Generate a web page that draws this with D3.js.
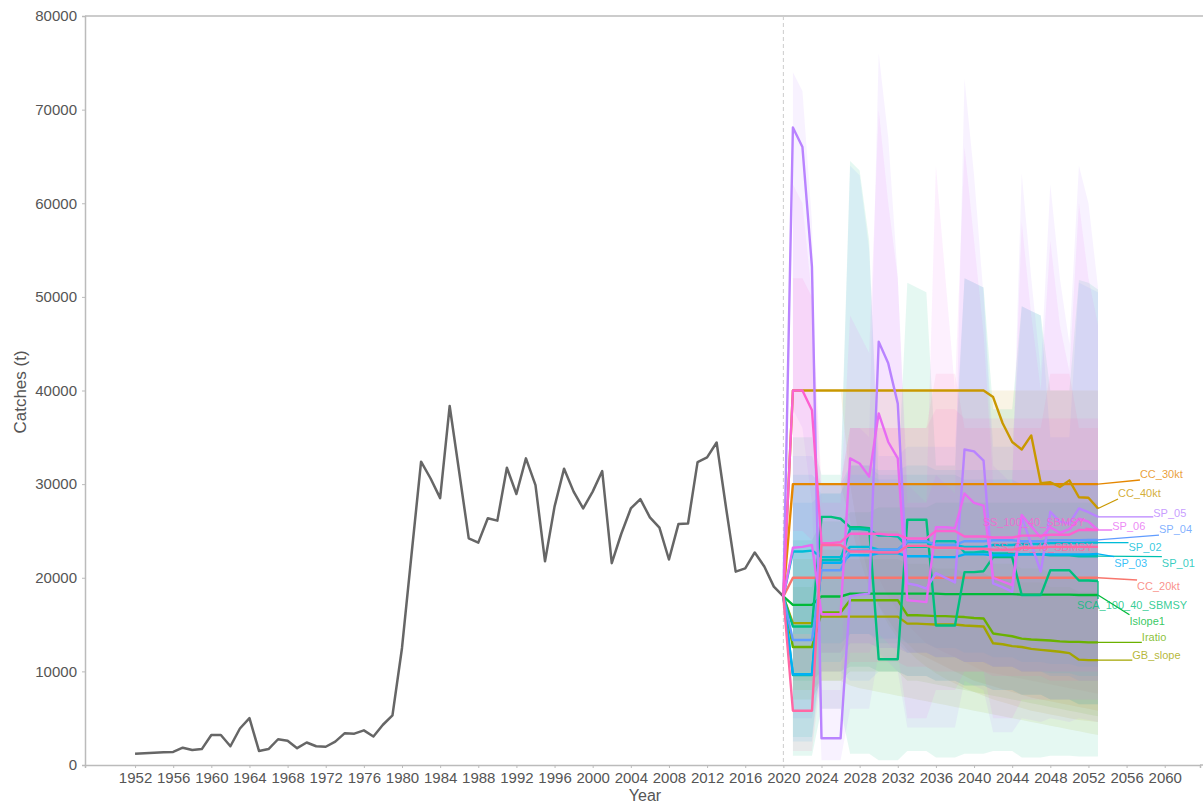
<!DOCTYPE html>
<html><head><meta charset="utf-8">
<script src="https://cdn.jsdelivr.net/npm/d3@7"></script>
<style>body{margin:0;background:#fff;} svg{display:block;font-family:"Liberation Sans",Arial,sans-serif;}</style>
</head><body>
<svg id="chart" width="1203" height="803"></svg>
<script>
// ---------- DATA ----------
const histYears = d3.range(1952, 2021);
const histCatch = [1200,1250,1300,1350,1400,1850,1600,1700,3200,3200,
  2000,3900,5000,1500,1700,2750,2600,1800,2400,2000,
  1950,2500,3400,3350,3700,3050,4300,5300,12500,22500,
  32400,30600,28500,38350,31300,24200,23750,26350,26100,31750,
  28950,32750,29900,21750,27600,31650,29200,27400,29200,31400,
  21550,24700,27400,28400,26450,25350,21950,25750,25800,32350,
  32850,34450,27400,20650,21000,22700,21200,19050,18000];

const lastHistYear = 2020;
const lastHistCatch = 18000;
const projYears = d3.range(2021, 2054);

const seriesNames = ["CC_20kt","CC_30kt","CC_40kt","GB_slope","Iratio","Islope1","SCA_100_40_SBMSY",
  "SP_01","SP_02","SP_03","SP_04","SP_05","SP_06","SS_100_40_SBMSY","SS_GB_40_SBMSY"];
const seriesColors = ["#F8766D","#E58700","#C99800","#A3A500","#6BB100","#00BA38","#00BF7D",
  "#00C0AF","#00BCD8","#00B0F6","#619CFF","#B983FF","#E76BF3","#FD61D1","#FF67A4"];

// medians (2021..2053)
const cc20Line = [20000,20000,20000, 20000,20000,20000, 20000,20000,20000, 20000,20000,20000, 20000,20000,20000, 20000,20000,20000, 20000,20000,20000, 20000,20000,20000, 20000,20000,20000, 20000,20000,20000, 20000,20000,20000];
const cc30Line = [30000,30000,30000, 30000,30000,30000, 30000,30000,30000, 30000,30000,30000, 30000,30000,30000, 30000,30000,30000, 30000,30000,30000, 30000,30000,30000, 30000,30000,30000, 30000,30000,30000, 30000,30000,30000];
const cc40Line = [40000,40000,40000, 40000,40000,40000, 40000,40000,40000, 40000,40000,40000, 40000,40000,40000, 40000,40000,40000, 40000,40000,40000, 39300,36500,34500, 33700,35200,30100, 30200,29700,30400, 28600,28550,27400];
const gbLine = [15150,15150,15150, 15850,15850,15850, 15850,15850,15850, 15850,15850,15850, 15100,15100,15050, 15000,15000,15000, 14900,14850,14800, 13000,12900,12700, 12600,12400,12300, 12200,12100,11950, 11250,11200,11200];
const iratioLine = [12600,12600,12600, 16300,16300,16300, 17600,17600,17600, 17600,17600,17600, 16000,16000,15950, 15900,15900,15850, 15800,15700,15650, 14050,13900,13750, 13500,13400,13350, 13300,13200,13150, 13150,13100,13100];
const islopeLine = [17100,17100,17100, 18000,18000,18000, 18300,18300,18300, 18300,18300,18300, 18300,18300,18300, 18300,18250,18250, 18250,18250,18250, 18250,18250,18250, 18200,18200,18200, 18200,18200,18200, 18150,18150,18150];
const scaLine = [14800,14800,14800, 26500,26500,26300, 25400,25400,25300, 11300,11300,11300, 26200,26200,26200, 14900,14900,14900, 20600,20600,20700, 22200,22200,22200, 18150,18150,18150, 20800,20800,20800, 19700,19700,19650];
const sp01Line = [9600,9600,9600, 21900,21900,21900, 25200,25200,25100, 24500,24500,24400, 23300,23300,23300, 23900,23900,23900, 22700,22700,22800, 22600,22600,22600, 22500,22500,22500, 22400,22400,22400, 22300,22300,22300];
const sp02Line = [22800,22800,22900, 22200,22200,22200, 23300,23300,23300, 23000,23000,23000, 23800,23800,23800, 23500,23500,23500, 23300,23300,23300, 23500,23500,23500, 23600,23600,23600, 23700,23700,23700, 23700,23750,23750];
const sp03Line = [9700,9700,9700, 21600,21600,21600, 22400,22400,22400, 22600,22600,22600, 22300,22300,22300, 22200,22200,22200, 22500,22500,22500, 22400,22400,22400, 22500,22500,22500, 22500,22500,22500, 22500,22500,22550];
const sp04Line = [13350,13350,13350, 20800,20800,20800, 22900,22900,22900, 23000,23000,23000, 23900,23900,23900, 23500,23500,23500, 23900,23900,23900, 24000,24000,24000, 23900,23900,23900, 24000,24000,24000, 24000,24050,24050];
const sp05Line = [68100,66000,53200, 2850,2850,2850, 18000,18200,18300, 45200,42900,38600, 19400,19200,18850, 20500,20000,19500, 33700,33500,32500, 19400,19000,18500, 26500,23600,20650, 27050,26000,25800, 27400,27000,26500];
const sp06Line = [23200,23300,23500, 16100,16100,16100, 32750,32200,30800, 37550,34500,32750, 17600,17500,17400, 25400,25400,25300, 29000,28000,27700, 20000,19600,19200, 26700,25500,24300, 25400,24800,25200, 26300,26000,25100];
const ss1Line = [40000,40000,37900, 23700,23700,23800, 24700,24700,24700, 24700,24600,24600, 24200,24200,24200, 25000,25000,25000, 24400,24400,24400, 24300,24300,24300, 24500,24500,24500, 24600,24600,24600, 25100,25100,25100];
const ss2Line = [5800,5800,5800, 23500,23500,23500, 22800,22800,22800, 22700,22700,22700, 23400,23400,23400, 23200,23200,23200, 23100,23100,23100, 23000,23000,23000, 23200,23200,23200, 23300,23300,23300, 23300,23300,23300];

// uncertainty bands (2021..2053)
const cc20Lo = [20000,20000,20000, 20000,20000,20000, 20000,20000,20000, 20000,18000,16500, 15000,14000,13000, 12500,12000,11500, 11000,10500,10000, 9800,9600,9400, 9200,9000,8800, 8600,8400,8200, 8000,7800,7600];
const cc20Hi = [20000,20000,20000, 20000,20000,20000, 20000,20000,20000, 20000,20000,20000, 20000,20000,20000, 20000,20000,20000, 20000,20000,20000, 20000,20000,20000, 20000,20000,20000, 20000,20000,20000, 20000,20000,20000];
const cc30Lo = [30000,30000,30000, 30000,30000,30000, 26000,22000,19000, 17000,15500,14000, 13000,12000,11500, 11000,10500,10000, 9500,9000,8700, 8400,8100,7800, 7500,7200,7000, 6800,6600,6400, 6200,6000,5800];
const cc30Hi = [30000,30000,30000, 30000,30000,30000, 30000,30000,30000, 30000,30000,30000, 30000,30000,30000, 30000,30000,30000, 30000,30000,30000, 30000,30000,30000, 30000,30000,30000, 30000,30000,30000, 30000,30000,30000];
const cc40Lo = [40000,40000,40000, 40000,40000,40000, 30000,24000,20000, 17000,15000,13500, 12300,11300,10500, 9800,9200,8700, 8200,7800,7400, 7000,6700,6400, 6100,5800,5600, 5400,5200,5000, 4800,4700,4600];
const cc40Hi = [40000,40000,40000, 40000,40000,40000, 40000,40000,40000, 40000,40000,40000, 40000,40000,40000, 40000,40000,40000, 40000,40000,40000, 40000,40000,40000, 40000,40000,40000, 40000,40000,40000, 40000,40000,40000];
const gbLo = [8000,8000,8000, 9000,9000,9000, 8500,8200,8000, 7800,7600,7400, 7200,7000,6800, 6600,6400,6200, 6000,5800,5600, 5400,5200,5000, 4800,4600,4400, 4200,4000,3800, 3600,3400,3200];
const gbHi = [22000,22000,22000, 22000,22000,22000, 22000,22000,22000, 22000,22000,22000, 21500,21500,21500, 21000,21000,21000, 20500,20500,20500, 20000,20000,20000, 19500,19500,19500, 19000,19000,19000, 18500,18500,18500];
const iratioLo = [7000,7000,7000, 9000,9000,9000, 10000,10000,10000, 10000,10000,10000, 9000,9000,8800, 8600,8400,8200, 8000,7800,7600, 7400,7200,7000, 6800,6600,6400, 6200,6000,5800, 5600,5400,5200];
const iratioHi = [19000,19000,19000, 23000,23000,23000, 25000,25000,25000, 25000,25000,25000, 23000,23000,23000, 23000,23000,23000, 22500,22500,22500, 21500,21500,21500, 21000,21000,21000, 20500,20500,20500, 20000,20000,20000];
const islopeLo = [9000,9000,9000, 10000,10000,10000, 10500,10500,10500, 10000,10000,10000, 9500,9500,9500, 9000,9000,9000, 8500,8500,8500, 8000,8000,8000, 7500,7500,7500, 7000,7000,7000, 6500,6500,6500];
const islopeHi = [24000,24000,24000, 26000,26000,26000, 27000,27000,27000, 27500,27500,27500, 27500,27500,27500, 28000,28000,28000, 28000,28000,28000, 28000,28000,28000, 28000,28000,28000, 28000,28000,28000, 28000,28000,28000];
const scaLo = [1000,1000,1000, 6000,6000,6000, 1200,1200,1200, 500,500,500, 1500,1500,1500, 800,800,800, 1200,1200,1200, 1500,1500,1500, 800,800,800, 1000,1000,1000, 900,900,900];
const scaHi = [35000,35000,35000, 31000,31000,31000, 64500,63500,56000, 30000,30000,30000, 51500,51000,50500, 32000,32000,32000, 52000,51500,51000, 38000,38000,38000, 49000,48500,48000, 40000,40000,40000, 51800,51500,50800];
const sp01Lo = [3000,3000,3000, 12000,12000,12000, 14000,14000,14000, 13000,13000,13000, 12000,12000,12000, 11500,11500,11500, 11000,11000,11000, 10500,10500,10500, 10000,10000,10000, 9800,9800,9800, 9500,9500,9500];
const sp01Hi = [30000,30000,30000, 29000,29000,29000, 32000,32000,32000, 31000,31000,31000, 31000,31000,31000, 31000,31000,31000, 30500,30500,30500, 30500,30500,30500, 30000,30000,30000, 30000,30000,30000, 30000,30000,30000];
const sp02Lo = [14000,14000,14000, 13000,13000,13000, 14000,14000,14000, 13500,13500,13500, 13000,13000,13000, 12500,12500,12500, 12000,12000,12000, 11500,11500,11500, 11000,11000,11000, 10800,10800,10800, 10500,10500,10500];
const sp02Hi = [31000,31000,31000, 30000,30000,30000, 32000,32000,32000, 31500,31500,31500, 32000,32000,32000, 31500,31500,31500, 31500,31500,31500, 31500,31500,31500, 31500,31500,31500, 31500,31500,31500, 31500,31500,31500];
const sp03Lo = [2500,2500,2500, 11000,11000,11000, 13000,13000,13000, 12500,12500,12500, 12000,12000,12000, 11500,11500,11500, 11000,11000,11000, 10500,10500,10500, 10000,10000,10000, 9500,9500,9500, 9000,9000,9000];
const sp03Hi = [28000,28000,28000, 29000,29000,29000, 31000,31000,31000, 30500,30500,30500, 30000,30000,30000, 30000,30000,30000, 30000,30000,30000, 30000,30000,30000, 30000,30000,30000, 30000,30000,30000, 30000,30000,30000];
const sp04Lo = [5000,5000,5000, 10000,10000,10000, 9000,9000,9000, 10000,10000,10000, 9500,9500,9500, 9000,9000,9000, 8500,8500,8500, 8000,8000,8000, 7500,7500,7500, 7000,7000,7000, 6500,6500,6500];
const sp04Hi = [33000,33000,33000, 30000,30000,30000, 64000,63000,55000, 33000,33000,33000, 34000,34000,34000, 34000,34000,34000, 52000,51500,51000, 34000,34000,34000, 49000,48500,48000, 35000,35000,35000, 51500,51000,50500];
const sp05Lo = [38000,36000,28000, 500,500,500, 6000,6000,6000, 12000,11000,10000, 4000,4000,4000, 4000,4000,4000, 9000,8500,8000, 3500,3500,3500, 5000,4800,4600, 5000,4800,4600, 5000,4800,4600];
const sp05Hi = [74000,72000,58000, 8000,8000,8000, 36000,36000,35000, 76000,67000,52000, 30000,29000,28000, 31000,30000,29000, 73300,63000,50000, 32000,31000,30000, 63200,52000,42000, 62000,52000,45000, 64000,60000,51000];
const sp06Lo = [10000,10000,10000, 6000,6000,6000, 12000,12000,12000, 14000,13000,12000, 5000,5000,5000, 8000,8000,8000, 10000,10000,10000, 5000,5000,5000, 7000,7000,7000, 7000,7000,7000, 7000,7000,7000];
const sp06Hi = [62000,60000,50000, 28000,28000,28000, 48000,46000,44000, 70000,60000,52000, 28000,28000,28000, 64000,52000,40000, 66000,56000,46000, 30000,30000,30000, 58000,48000,40000, 56000,47000,42000, 60000,52000,47000];
const ss1Lo = [25000,25000,24000, 12000,12000,12000, 13000,13000,13000, 12500,12500,12500, 12000,12000,12000, 11500,11500,11500, 11000,11000,11000, 10500,10500,10500, 10000,10000,10000, 10000,10000,10000, 10000,10000,10000];
const ss1Hi = [52000,52000,50000, 30000,30000,30000, 36000,36000,36000, 36000,36000,36000, 36000,36000,36000, 38000,38000,38000, 37000,37000,37000, 37000,37000,37000, 37000,37000,37000, 37000,37000,37000, 37000,37000,37000];
const ss2Lo = [1500,1500,1500, 10000,10000,10000, 11000,11000,11000, 11000,11000,11000, 10500,10500,10500, 10000,10000,10000, 10000,10000,10000, 9500,9500,9500, 9500,9500,9500, 9000,9000,9000, 9000,9000,9000];
const ss2Hi = [14000,14000,14000, 30000,30000,30000, 36000,36000,36000, 36000,36000,36000, 36000,36000,36000, 41800,41800,41800, 36000,36000,36000, 36000,36000,36000, 36000,36000,36000, 41800,41800,41800, 36000,36000,36000];

// label anchor positions in data units (year, catch)
const labelYears  = [2057.1, 2057.4, 2055.1, 2056.6, 2057.6, 2056.3, 2050.8, 2059.7, 2056.2, 2054.7, 2059.4, 2058.8, 2054.5, 2040.9, 2042.0];
const labelValues = [19120, 31080, 29050, 11750, 13670, 15410, 17090, 21620, 23290, 21620, 25200, 26950, 25560, 25950, 23320];

const xTickValues = d3.range(1952, 2061, 4);
const yTickValues = [0,10000,20000,30000,40000,50000,60000,70000,80000];

// ---------- BUILD ----------
const lines = [cc20Line,cc30Line,cc40Line,gbLine,iratioLine,islopeLine,scaLine,sp01Line,sp02Line,sp03Line,sp04Line,sp05Line,sp06Line,ss1Line,ss2Line];
const los = [cc20Lo,cc30Lo,cc40Lo,gbLo,iratioLo,islopeLo,scaLo,sp01Lo,sp02Lo,sp03Lo,sp04Lo,sp05Lo,sp06Lo,ss1Lo,ss2Lo];
const his = [cc20Hi,cc30Hi,cc40Hi,gbHi,iratioHi,islopeHi,scaHi,sp01Hi,sp02Hi,sp03Hi,sp04Hi,sp05Hi,sp06Hi,ss1Hi,ss2Hi];
const series = seriesNames.map((n,i)=>({
  name:n, color:seriesColors[i],
  line:[{year:lastHistYear,v:lastHistCatch}].concat(projYears.map((yr,j)=>({year:yr,v:lines[i][j]}))),
  band:projYears.map((yr,j)=>({year:yr,lo:los[i][j],hi:his[i][j]})),
  lx:labelYears[i], ly:labelValues[i]
}));

const svg = d3.select("#chart");
const L = 85, R = 1200, T = 16, B = 765;
const x = d3.scaleLinear().domain([1946.75, 2063.7]).range([L, R]);
const y = d3.scaleLinear().domain([0, 80000]).range([B, T]);

// bands
const area = d3.area().x(d=>x(d.year)).y0(d=>y(d.lo)).y1(d=>y(d.hi));
svg.append("g").selectAll("path").data(series).join("path")
  .attr("d", d=>area(d.band)).attr("fill", d=>d.color).attr("fill-opacity", 0.1).attr("stroke","none");

// frame
svg.append("line").attr("x1",L).attr("x2",1203).attr("y1",T).attr("y2",T).attr("stroke","#bbb").attr("stroke-width",1.5);
svg.append("line").attr("x1",x(2020)).attr("x2",x(2020)).attr("y1",T).attr("y2",B)
  .attr("stroke","#ccc").attr("stroke-width",1).attr("stroke-dasharray","4,3");

// axes
const gx = svg.append("g").attr("transform",`translate(0,${B})`)
  .call(d3.axisBottom(x).tickValues(xTickValues).tickFormat(d3.format("d")).tickSize(3).tickPadding(4));
const gy = svg.append("g").attr("transform",`translate(${L},0)`)
  .call(d3.axisLeft(y).tickValues(yTickValues).tickFormat(d3.format("d")).tickSize(3).tickPadding(5));
[gx,gy].forEach(g=>{
  g.select(".domain").attr("stroke","#bbb").attr("stroke-width",1.5);
  g.selectAll(".tick line").attr("stroke","#bbb");
  g.selectAll(".tick text").attr("fill","#555").style("font-size","15px").style("font-family",'"Liberation Sans",Arial,sans-serif');
});
svg.append("line").attr("x1",R).attr("x2",1203).attr("y1",B).attr("y2",B).attr("stroke","#bbb").attr("stroke-width",1.5);

// titles
svg.append("text").attr("transform","translate(26,392) rotate(-90)").attr("text-anchor","middle")
  .attr("fill","#555").style("font-size","17px").text("Catches (t)");
svg.append("text").attr("x",645).attr("y",801).attr("text-anchor","middle")
  .attr("fill","#555").style("font-size","16px").text("Year");

// historical line
const lineGen = d3.line().x(d=>x(d.year)).y(d=>y(d.v));
svg.append("path").datum(histYears.map((yr,i)=>({year:yr,v:histCatch[i]})))
  .attr("d",lineGen).attr("fill","none").attr("stroke","#666").attr("stroke-width",2.5).attr("stroke-linejoin","round");

// projection lines
svg.append("g").selectAll("path").data(series).join("path")
  .attr("d",d=>lineGen(d.line)).attr("fill","none").attr("stroke",d=>d.color)
  .attr("stroke-width",2.4).attr("stroke-linejoin","round");

// labels with leader lines
const lg = svg.append("g");
series.forEach(s=>{
  const last = s.line[s.line.length-1];
  const sx = x(last.year), sy = y(last.v);
  const t = lg.append("text").attr("x",x(s.lx)).attr("y",y(s.ly)).attr("dominant-baseline","central")
    .attr("fill",s.color).attr("fill-opacity",0.8).style("font-size","11px").text(s.name);
  const bb = t.node().getBBox();
  const cx = Math.max(bb.x, Math.min(sx, bb.x+bb.width));
  const cy = Math.max(bb.y, Math.min(sy, bb.y+bb.height));
  if (Math.hypot(cx-sx, cy-sy) > 3) {
    lg.insert("line","text").attr("x1",sx).attr("y1",sy).attr("x2",cx).attr("y2",cy)
      .attr("stroke",s.color).attr("stroke-width",1.3);
  }
});
</script>
</body></html>
